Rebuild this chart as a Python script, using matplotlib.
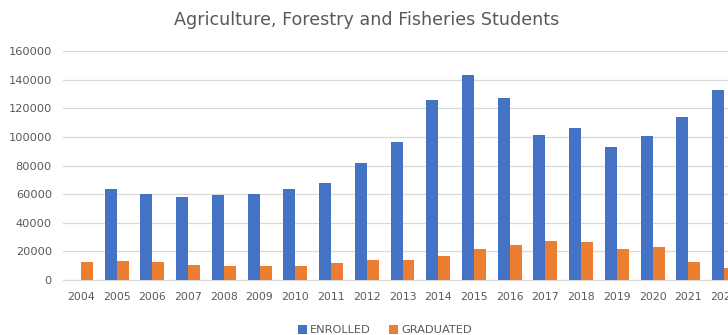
import matplotlib
matplotlib.use("Agg")
import matplotlib.pyplot as plt
import numpy as np

years = [str(y) for y in range(2004, 2023)]
enrolled = [0, 63500, 60000, 58000, 59400, 60000, 63500, 68000, 81500, 96400,
            125800, 143500, 127400, 101300, 106200, 92700, 100800, 114100, 133000]
graduated = [12700, 13400, 12400, 10700, 9800, 9800, 9600, 11900, 13800, 14000,
             17000, 21500, 24400, 27000, 26500, 22000, 23200, 12700, 8200]
yticks = list(range(0, 160001, 20000))

blue = "#4472C4"
orange = "#ED7D31"
grey = "#595959"

fig = plt.figure(figsize=(7.28, 3.35), dpi=100)
ax = fig.add_axes([63/728, 1-280/335, (742-63)/728, 229/335])

x = np.arange(len(years))
w = 0.335
ax.bar(x - w/2, enrolled, width=w, color=blue, label="ENROLLED", zorder=3)
ax.bar(x + w/2, graduated, width=w, color=orange, label="GRADUATED", zorder=3)

ax.set_xlim(-0.5, len(years) - 0.5)
ax.set_ylim(0, 160000)
ax.set_yticks(yticks)
ax.set_yticklabels([str(v) for v in yticks])
ax.set_xticks(x)
ax.set_xticklabels(years)
ax.tick_params(axis="both", length=0, colors=grey)
ax.tick_params(axis="y", pad=8, labelsize=8.2)
ax.tick_params(axis="x", pad=9, labelsize=7.8)
ax.grid(axis="y", color="#D9D9D9", linewidth=0.9, zorder=0)
for s in ["top", "right", "left"]:
    ax.spines[s].set_visible(False)
ax.spines["bottom"].set_color("#D9D9D9")

fig.text(367/728, 1-20/335, "Agriculture, Forestry and Fisheries Students",
         ha="center", va="center", fontsize=12.6, color=grey)

fig.legend(loc="center", bbox_to_anchor=(385/728, 1-330/335), ncol=2, frameon=False,
           fontsize=8.2, handlelength=0.8, handleheight=0.8, columnspacing=1.6,
           handletextpad=0.3, labelcolor=grey)

fig.savefig("out.png", dpi=100)
